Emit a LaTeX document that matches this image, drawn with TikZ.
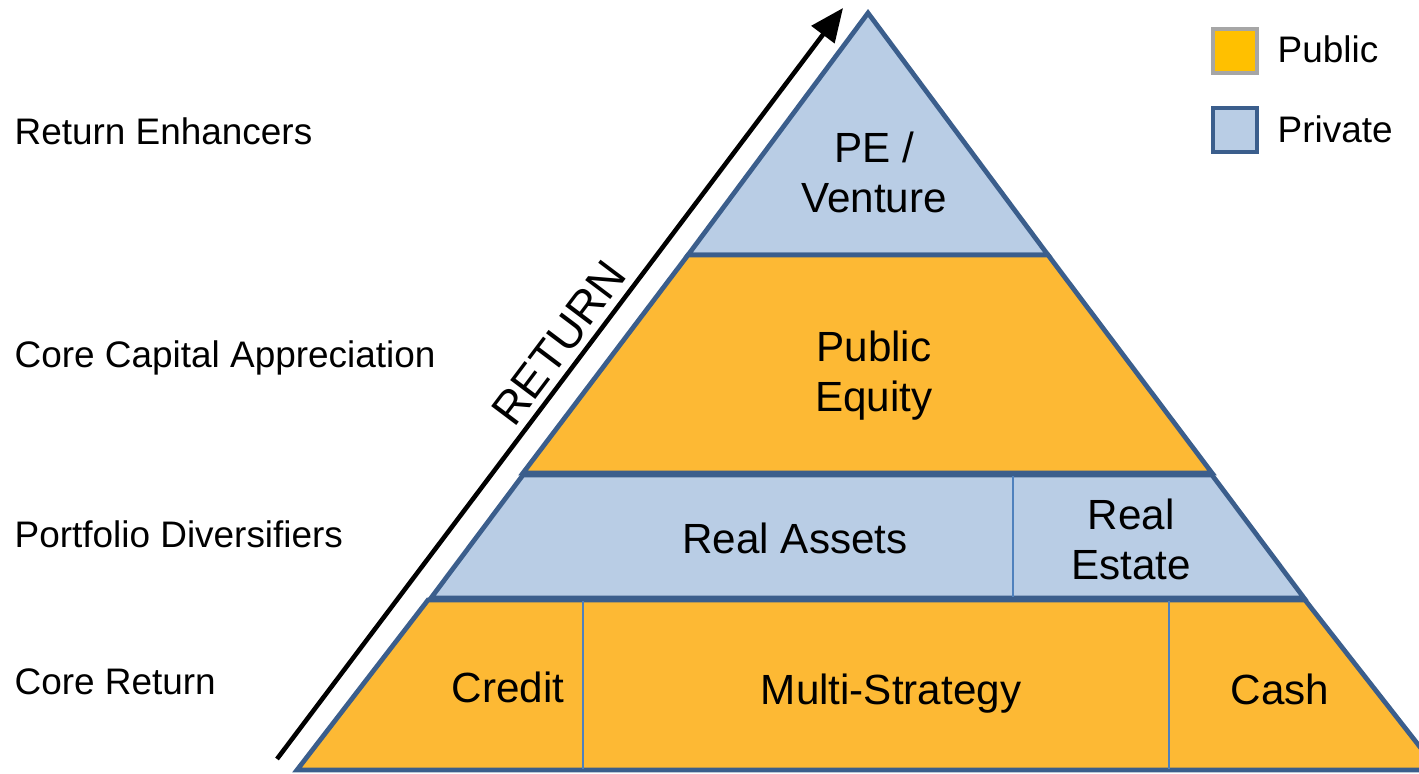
\documentclass[tikz,border=0pt]{standalone}
\usepackage{fontspec}
\setmainfont{Liberation Sans}
\usepackage{xcolor}
\usepackage{tikz}
\usetikzlibrary{arrows.meta}

\definecolor{privblue}{HTML}{B9CDE5}
\definecolor{tieredge}{HTML}{3B5E8C}
\definecolor{pubgold}{HTML}{FDB934}
\definecolor{keygold}{HTML}{FFC000}
\definecolor{keygrey}{HTML}{A6A6A6}
\definecolor{splitblue}{HTML}{4F81BD}

\tikzset{
  tier/.style={line width=1.35pt, draw=tieredge, line join=miter},
  split/.style={line width=0.6pt, draw=splitblue},
  inlabel/.style={font=\fontsize{12}{14.4}\selectfont, align=center, inner sep=0pt},
  sidelabel/.style={font=\fontsize{10.5}{12.6}\selectfont, anchor=base west, inner sep=0pt},
  keybox/.style={rectangle, minimum size=0.44cm, inner sep=0pt, line width=1pt}
}

\begin{document}
\begin{tikzpicture}[x=0.01cm, y=-0.01cm]
\useasboundingbox (0,0) rectangle (1419,774);
\clip (0,0) rectangle (1419,774);

% pyramid tiers
\fill[privblue] (868,13) -- (1048,255) -- (688,255) -- cycle;
\draw[tier] (868,13) -- (1048,255) -- (688,255) -- cycle;

\fill[pubgold] (688,255) -- (1048,255) -- (1212,473) -- (523,473) -- cycle;
\draw[tier] (688,255) -- (1048,255) -- (1212,473) -- (523,473) -- cycle;

\fill[privblue] (523,475) -- (1212,475) -- (1304,598) -- (431,598) -- cycle;
\draw[tier] (523,475) -- (1212,475) -- (1304,598) -- (431,598) -- cycle;

\fill[pubgold] (428,600) -- (1305,600) -- (1438,770) -- (297,770) -- cycle;
\draw[tier] (428,600) -- (1305,600) -- (1438,770) -- (297,770) -- cycle;

% cell dividers
\draw[split] (1013,476) -- (1013,597);
\draw[split] (583,601) -- (583,769);
\draw[split] (1169,601) -- (1169,769);

% tier texts (base = last line)
\node[inlabel, anchor=base] (venture) at (874,213) {PE /\\Venture};
\node[inlabel, anchor=base] (equity) at (874,412) {Public\\Equity};
\node[inlabel, anchor=base] (realassets) at (795,554) {Real Assets};
\node[inlabel, anchor=base] (realestate) at (1131,580) {Real\\Estate};
\node[inlabel, anchor=base] (credit) at (508,703) {Credit};
\node[inlabel, anchor=base] (multistrat) at (891,705) {Multi-Strategy};
\node[inlabel, anchor=base] (cash) at (1280,705) {Cash};

% return arrow
\coordinate (tail) at (277,759);
\coordinate (tip) at (843,8);
\draw[-{Triangle[length=9.5pt,width=8pt]}, line width=1.3pt] (tail) -- (tip);
\node[font=\fontsize{13}{15.6}\selectfont, rotate=53, inner sep=0pt] (returnlbl) at (559,343) {RETURN};

% side labels
\node[sidelabel] (enhancers) at (14,145) {Return Enhancers};
\node[sidelabel] (appreciation) at (14,368) {Core Capital Appreciation};
\node[sidelabel] (diversifiers) at (14,548) {Portfolio Diversifiers};
\node[sidelabel] (corereturn) at (14,695) {Core Return};

% legend
\node[keybox, fill=keygold, draw=keygrey] (pubkey) at (1235,51) {};
\node[keybox, fill=privblue, draw=tieredge] (privkey) at (1235,130) {};
\node[sidelabel] (publbl) at (1277,63) {Public};
\node[sidelabel] (privlbl) at (1277,143) {Private};

\end{tikzpicture}
\end{document}
